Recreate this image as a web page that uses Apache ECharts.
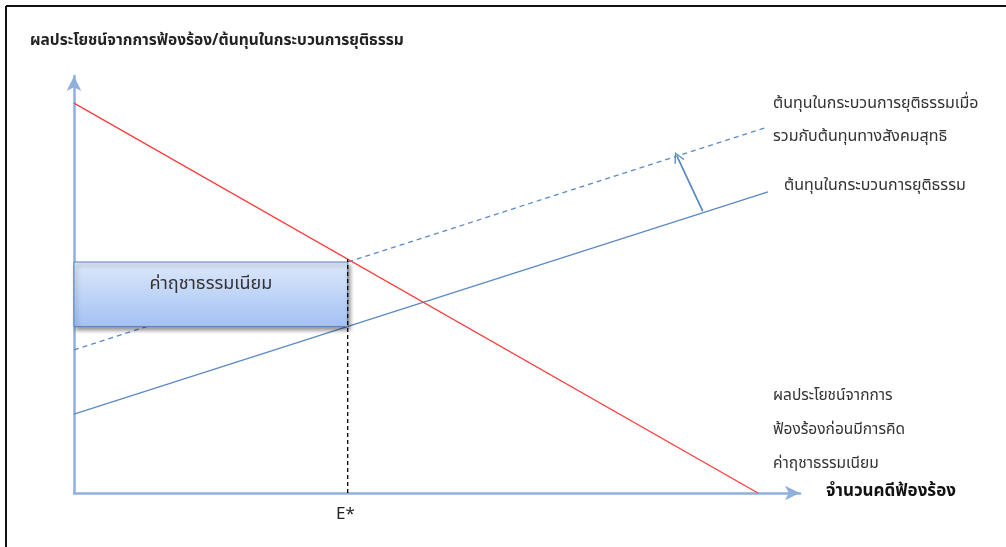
<!DOCTYPE html>
<html>
<head>
<meta charset="utf-8">
<script src="https://cdn.jsdelivr.net/npm/echarts@6/dist/echarts.min.js"></script>
<style>
  html, body { margin: 0; padding: 0; background: #fff; }
  #chart { width: 1006px; height: 547px; }
</style>
</head>
<body>
<div id="chart"></div>
<script>
// ข้อมูลของแผนภาพ (หน่วยสมมติ 0-100)
const benefitLine = [[0, 93.5], [94.2, 0]];
const costLine = [[0, 18.9], [95.6, 72.2]];
const socialCostLine = [[0, 34.3], [95.6, 87.8]];
const eStar = 37.7;
const shiftArrow = [[86.6, 67.6], [83.1, 80.6]];

const yTitle = 'ผลประโยชน์จากการฟ้องร้อง/ต้นทุนในกระบวนการยุติธรรม';
const xTitle = 'จำนวนคดีฟ้องร้อง';
const boxLabel = 'ค่าฤชาธรรมเนียม';
const socialLabel = ['ต้นทุนในกระบวนการยุติธรรมเมื่อ', 'รวมกับต้นทุนทางสังคมสุทธิ'];
const costLabel = 'ต้นทุนในกระบวนการยุติธรรม';
const benefitLabel = ['ผลประโยชน์จากการ', 'ฟ้องร้องก่อนมีการคิด', 'ค่าฤชาธรรมเนียม'];

// ค่าบนเส้นตรงที่ตำแหน่ง x
function valueAt(line, x) {
  const [p, q] = line;
  return p[1] + (q[1] - p[1]) * (x - p[0]) / (q[0] - p[0]);
}

const boxTop = valueAt(socialCostLine, eStar);
const boxBottom = valueAt(costLine, eStar);
const eTop = valueAt(benefitLine, eStar);

const font = 'Tahoma, "Noto Sans Thai", "Leelawadee UI", "Noto Sans", sans-serif';
const blue = '#5a8ac6';
const axisColor = '#8fb0dc';

const chart = echarts.init(document.getElementById('chart'));
chart.setOption({
  animation: false,
  grid: { left: 74, right: 206, top: 76, bottom: 54 },
  xAxis: {
    type: 'value',
    min: 0,
    max: 100,
    axisLine: {
      show: true,
      symbol: ['none', 'arrow'],
      symbolSize: [11, 15],
      lineStyle: { color: axisColor, width: 2.5 }
    },
    axisTick: { show: false },
    axisLabel: { show: false },
    splitLine: { show: false }
  },
  yAxis: {
    type: 'value',
    min: 0,
    max: 100,
    axisLine: {
      show: true,
      symbol: ['none', 'arrow'],
      symbolSize: [11, 15],
      lineStyle: { color: axisColor, width: 2.5 }
    },
    axisTick: { show: false },
    axisLabel: { show: false },
    splitLine: { show: false }
  },
  graphic: [
    { type: 'line', shape: { x1: 6, y1: 6, x2: 1006, y2: 6 }, style: { stroke: '#111', lineWidth: 2 } },
    { type: 'line', shape: { x1: 6, y1: 6, x2: 6, y2: 547 }, style: { stroke: '#111', lineWidth: 2 } },
    {
      type: 'text', left: 30, top: 34,
      style: { text: yTitle, font: 'bold 15.5px ' + font, fill: '#222' }
    },
    {
      type: 'text', left: 826, top: 484,
      style: { text: xTitle, font: 'bold 17px ' + font, fill: '#111' }
    },
    {
      type: 'text', left: 336, top: 507,
      style: { text: 'E*', font: '17px ' + font, fill: '#222' }
    },
    {
      type: 'text', left: 773, top: 88,
      style: { text: socialLabel.join('\n'), font: '16px ' + font, fill: '#333', lineHeight: 33 }
    },
    {
      type: 'text', left: 784, top: 179,
      style: { text: costLabel, font: '16px ' + font, fill: '#333' }
    },
    {
      type: 'text', left: 773, top: 380,
      style: { text: benefitLabel.join('\n'), font: '15.5px ' + font, fill: '#333', lineHeight: 34 }
    }
  ],
  series: [
    {
      type: 'line',
      name: 'benefit',
      data: benefitLine,
      symbol: 'none',
      lineStyle: { color: '#ff3b3b', width: 1.3 },
      z: 4
    },
    {
      type: 'line',
      name: 'cost',
      data: costLine,
      symbol: 'none',
      lineStyle: { color: blue, width: 1.3 },
      z: 3
    },
    {
      type: 'line',
      name: 'socialCost',
      data: socialCostLine,
      symbol: 'none',
      lineStyle: { color: blue, width: 1.3, type: [5, 4] },
      z: 3
    },
    {
      type: 'line',
      name: 'eStar',
      data: [[eStar, 0], [eStar, eTop]],
      symbol: 'none',
      lineStyle: { color: '#000', width: 1.3, type: [4, 3] },
      z: 8,
      markArea: {
        silent: true,
        z: 6,
        itemStyle: {
          color: new echarts.graphic.LinearGradient(0, 0, 0, 1, [
            { offset: 0, color: '#dde8fb' },
            { offset: 1, color: '#a3c1f3' }
          ]),
          borderColor: '#5b86c0',
          borderWidth: 1,
          shadowColor: 'rgba(0,0,0,0.4)',
          shadowBlur: 4,
          shadowOffsetX: 2,
          shadowOffsetY: 3
        },
        label: {
          show: true,
          position: 'inside',
          offset: [0, -9],
          color: '#333',
          fontFamily: font,
          fontSize: 18
        },
        data: [[
          { name: boxLabel, coord: [0, boxTop] },
          { coord: [eStar, boxBottom] }
        ]]
      }
    },
    {
      type: 'line',
      name: 'shift',
      data: shiftArrow,
      symbol: 'none',
      lineStyle: { color: blue, width: 1.3 },
      z: 3,
      markLine: {
        silent: true,
        symbol: ['none', 'path://M0,10 L5,0 L10,10 L8.8,10.6 L5,2.6 L1.2,10.6 Z'],
        symbolSize: [11, 11],
        label: { show: false },
        lineStyle: { color: blue, width: 1.3, type: 'solid' },
        data: [[{ coord: shiftArrow[0] }, { coord: shiftArrow[1] }]]
      }
    }
  ]
});
</script>
</body>
</html>
